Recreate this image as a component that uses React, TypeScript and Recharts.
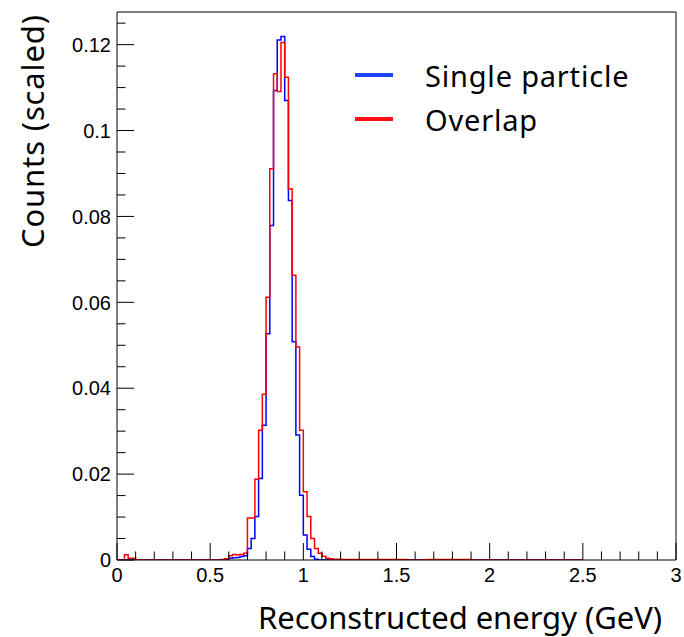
import React from 'react';
import { LineChart, Line, XAxis, YAxis, ReferenceLine } from 'recharts';

// bin left edges (GeV) and contents; last edge closes the histogram
const singleEdges = [0, 0.56, 0.58, 0.6, 0.62, 0.64, 0.66, 0.68, 0.7, 0.72, 0.74, 0.76, 0.78, 0.8, 0.82, 0.84, 0.86, 0.88, 0.9, 0.92, 0.94, 0.96, 0.98, 1.0, 1.02, 1.04, 1.06, 1.08, 2.5];
const singleCounts = [0, 0.0001, 0.0002, 0.0004, 0.0005, 0.0006, 0.0008, 0.001, 0.0027, 0.005, 0.0101, 0.019, 0.0314, 0.0527, 0.0779, 0.1093, 0.1211, 0.1219, 0.107, 0.0837, 0.0508, 0.0291, 0.0151, 0.0058, 0.0025, 0.0008, 0.0002, 0];

const overlapEdges = [0, 0.04, 0.06, 0.1, 0.58, 0.6, 0.62, 0.64, 0.66, 0.68, 0.7, 0.72, 0.74, 0.76, 0.78, 0.8, 0.82, 0.84, 0.86, 0.88, 0.9, 0.92, 0.94, 0.96, 0.98, 1.0, 1.02, 1.04, 1.06, 1.08, 1.1, 1.12, 1.14, 1.16, 1.2, 1.56, 1.66, 1.9, 2.5];
const overlapCounts = [0, 0.0012, 0.0004, 0, 0.0003, 0.001, 0.0013, 0.0012, 0.0013, 0.0016, 0.0098, 0.0098, 0.0188, 0.0302, 0.0386, 0.0612, 0.0911, 0.1132, 0.1091, 0.1205, 0.1124, 0.0864, 0.0663, 0.0496, 0.0302, 0.0159, 0.0101, 0.005, 0.0027, 0.0016, 0.0009, 0.0004, 0.0003, 0.0002, 0.0001, 0, 0.0001, 0];

const seriesNames = ['Single particle', 'Overlap'];
const seriesColors = ['#0000ff', '#ff0000'];
const legendColors = ['#1f45ff', '#ff1010'];

const xMajor = [0, 0.5, 1, 1.5, 2, 2.5, 3];
const xTicks = [0, 0.1, 0.2, 0.3, 0.4, 0.5, 0.6, 0.7, 0.8, 0.9, 1, 1.1, 1.2, 1.3, 1.4, 1.5, 1.6, 1.7, 1.8, 1.9, 2, 2.1, 2.2, 2.3, 2.4, 2.5, 2.6, 2.7, 2.8, 2.9, 3];
const yMajor = [0, 0.02, 0.04, 0.06, 0.08, 0.1, 0.12];
const yTicks = [0, 0.005, 0.01, 0.015, 0.02, 0.025, 0.03, 0.035, 0.04, 0.045, 0.05, 0.055, 0.06, 0.065, 0.07, 0.075, 0.08, 0.085, 0.09, 0.095, 0.1, 0.105, 0.11, 0.115, 0.12, 0.125];
const yMax = 0.1276;

const toSteps = (edges: number[], counts: number[]) =>
  edges.map((x, i) => ({ x, y: counts[Math.min(i, counts.length - 1)] }));

const singleData = toSteps(singleEdges, singleCounts);
const overlapData = toSteps(overlapEdges, overlapCounts);

const isMajor = (list: number[], v: number) => list.some((m) => Math.abs(m - v) < 1e-9);

const tickFont = '"Liberation Sans", Arial, sans-serif';
const titleFont = '"Noto Sans", "Open Sans", sans-serif';

const XTick = (props: any) => {
  const { x, y, payload } = props;
  const major = isMajor(xMajor, payload.value);
  return (
    <g>
      <line x1={x} x2={x} y1={y} y2={y - (major ? 17 : 8.5)} stroke="#000" strokeWidth={1} />
      {major && (
        <text x={x} y={y + 22} textAnchor="middle" fontFamily={tickFont} fontSize={20} fill="#000">
          {payload.value}
        </text>
      )}
    </g>
  );
};

const YTick = (props: any) => {
  const { x, y, payload } = props;
  const major = isMajor(yMajor, payload.value);
  return (
    <g>
      <line x1={x} x2={x + (major ? 17 : 8.5)} y1={y} y2={y} stroke="#000" strokeWidth={1} />
      {major && (
        <text x={x - 6} y={y} dy="0.36em" textAnchor="end" fontFamily={tickFont} fontSize={20} fill="#000">
          {payload.value}
        </text>
      )}
    </g>
  );
};

export default function App() {
  return (
    <div style={{ position: 'absolute', left: 0, top: 0, width: 684, height: 637, background: '#fff' }}>
      <LineChart width={684} height={637} margin={{ top: 12, right: 8, left: 57, bottom: 47 }}>
        <XAxis
          dataKey="x"
          type="number"
          domain={[0, 3]}
          ticks={xTicks}
          interval={0}
          tickSize={0}
          tickMargin={0}
          tick={<XTick />}
          axisLine={{ stroke: '#000' }}
          allowDataOverflow
          height={30}
        />
        <YAxis
          type="number"
          domain={[0, yMax]}
          ticks={yTicks}
          interval={0}
          tickSize={0}
          tickMargin={0}
          tick={<YTick />}
          axisLine={{ stroke: '#000' }}
          allowDataOverflow
          width={60}
        />
        <ReferenceLine y={yMax} stroke="#000" />
        <ReferenceLine x={3} stroke="#000" />
        <Line
          data={singleData}
          dataKey="y"
          name={seriesNames[0]}
          type="stepAfter"
          stroke={seriesColors[0]}
          strokeWidth={1.5}
          dot={false}
          activeDot={false}
          isAnimationActive={false}
        />
        <Line
          data={overlapData}
          dataKey="y"
          name={seriesNames[1]}
          type="stepAfter"
          stroke={seriesColors[1]}
          strokeWidth={1.5}
          dot={false}
          activeDot={false}
          isAnimationActive={false}
        />
        <text
          x={662}
          y={629}
          textAnchor="end"
          fontFamily={titleFont}
          fontSize={31}
          fill="#000"
          textLength={404}
          lengthAdjust="spacing"
        >
          Reconstructed energy (GeV)
        </text>
        <text
          x={0}
          y={0}
          transform="translate(44, 15) rotate(-90)"
          textAnchor="end"
          fontFamily={titleFont}
          fontSize={31}
          fill="#000"
          textLength={233}
          lengthAdjust="spacing"
        >
          Counts (scaled)
        </text>
      </LineChart>
      <div
        style={{
          position: 'absolute',
          left: 355,
          top: 53,
          fontFamily: titleFont,
          fontSize: 29,
          letterSpacing: 0.8,
          color: '#000',
        }}
      >
        {seriesNames.map((name, i) => (
          <div key={name} style={{ display: 'flex', alignItems: 'center', height: 44 }}>
            <div style={{ width: 38, height: 4, background: legendColors[i], marginRight: 32 }} />
            <span>{name}</span>
          </div>
        ))}
      </div>
    </div>
  );
}
